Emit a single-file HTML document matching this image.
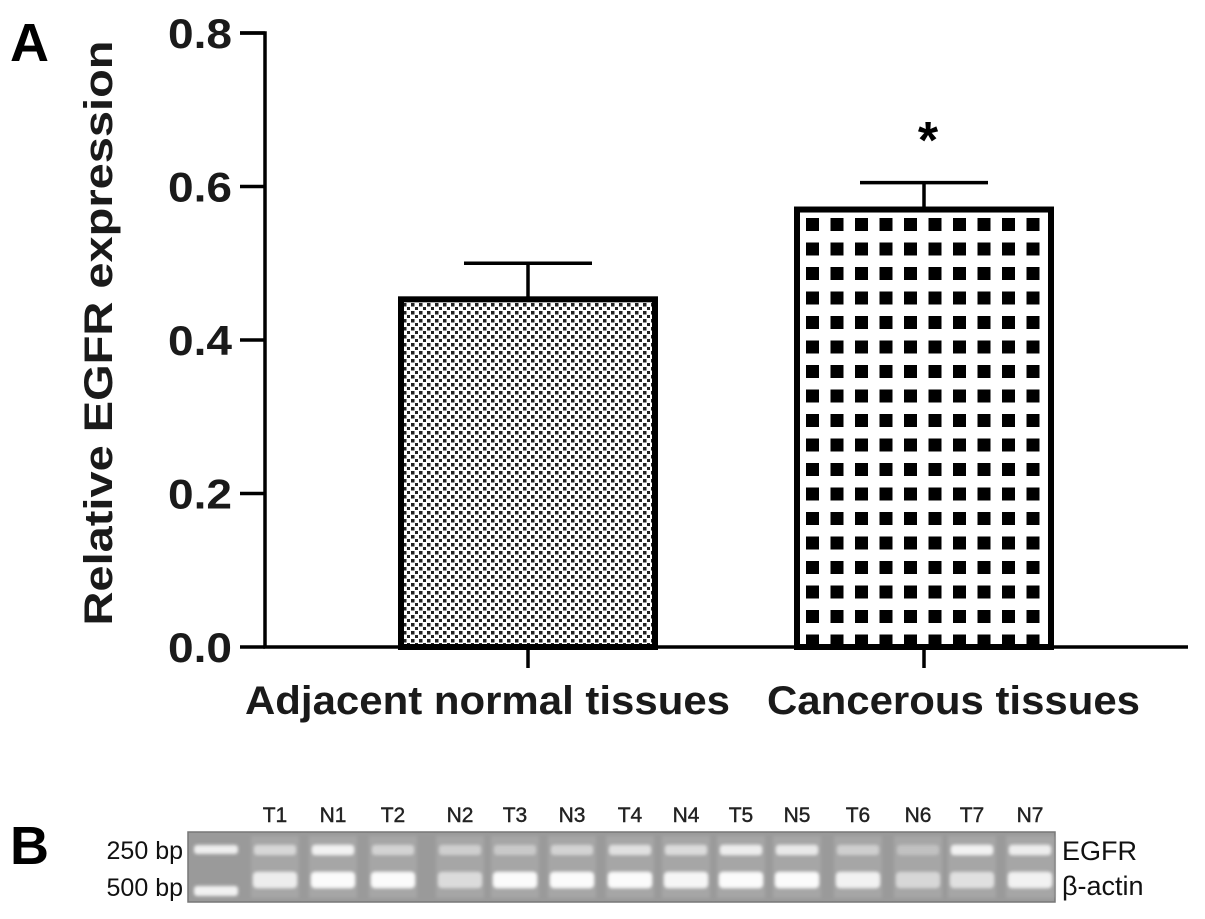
<!DOCTYPE html>
<html><head><meta charset="utf-8"><style>
body{margin:0;background:#fff;width:1205px;height:919px;overflow:hidden}
svg{display:block}
text{font-family:"Liberation Sans",sans-serif}
</style></head><body>
<svg width="1205" height="919">
<defs>
<pattern id="fine" width="8" height="8" patternUnits="userSpaceOnUse" x="402" y="302">
<rect width="8" height="8" fill="#fff"/><rect x="1" y="1" width="3.5" height="3.5" fill="#222"/><rect x="5" y="5" width="3.5" height="3.5" fill="#222"/>
</pattern>
<pattern id="coarse" width="24.5" height="24.5" patternUnits="userSpaceOnUse" x="806" y="218">
<rect width="24.5" height="24.5" fill="#fff"/><rect x="0" y="0" width="13" height="13" fill="#000"/>
</pattern>
<filter id="blur"><feGaussianBlur stdDeviation="1.6"/></filter>
</defs>
<text x="10" y="61" font-size="54" font-weight="bold">A</text>
<text x="10" y="864" font-size="54" font-weight="bold">B</text>
<g id="chart"></g>
<g id="gel"></g>
</svg>
<script>
const categories=["Adjacent normal tissues","Cancerous tissues"];
const values=[0.453,0.57];
const errors=[0.047,0.035];
const yTicks=[0,0.2,0.4,0.6,0.8];
const yTickLabels=["0.0","0.2","0.4","0.6","0.8"];
const NS="http://www.w3.org/2000/svg";
const chart=document.getElementById('chart');
const y0=647,y1=33,vmax=0.8;
function y(v){return y0-(v/vmax)*(y0-y1);}
const centers=[528,924];
function x(i){return centers[i];}
const labelX=[245,767],labelW=[485,373];
const barW=254;
function mk(tag,attrs,parent){const e=document.createElementNS(NS,tag);for(const k in attrs)e.setAttribute(k,attrs[k]);parent.appendChild(e);return e;}
const fills=["url(#fine)","url(#coarse)"];
values.forEach((v,i)=>{
  const r=mk('rect',{x:x(i)-barW/2,y:y(v),width:barW,height:y0-y(v),fill:fills[i],stroke:'#000','stroke-width':6},chart);
  
  
  const e=mk('path',{d:`M${x(i)} ${y(v)} V${y(v+errors[i])} M${x(i)-64} ${y(v+errors[i])} H${x(i)+64}`,stroke:'#000','stroke-width':3.5,fill:'none'},chart);
  
  
  mk('line',{x1:x(i),y1:y0,x2:x(i),y2:668,stroke:'#000','stroke-width':3.5},chart);
  const t=mk('text',{x:labelX[i],y:714,'font-size':40,'font-weight':'bold',textLength:labelW[i],lengthAdjust:'spacingAndGlyphs',fill:'#1a1a1a'},chart);
  t.textContent=categories[i];
  
  
});
const star=mk('text',{x:x(1)+4,y:158,'font-size':52,'font-weight':'bold','text-anchor':'middle'},chart);
star.textContent='*';


const ax=mk('path',{d:`M240 ${y1} H265 V${y0} H1188`,stroke:'#000','stroke-width':3.5,fill:'none'},chart);


yTicks.forEach((v,i)=>{
  mk('line',{x1:240,y1:y(v),x2:265,y2:y(v),stroke:'#000','stroke-width':3.5},chart);
  const t=mk('text',{x:168,y:y(v)+15,'font-size':42,'font-weight':'bold',textLength:64,lengthAdjust:'spacingAndGlyphs',fill:'#1a1a1a'},chart);
  t.textContent=yTickLabels[i];
  
  
});
const yt=mk('text',{x:0,y:0,'font-size':40,'font-weight':'bold','text-anchor':'middle',textLength:585,lengthAdjust:'spacingAndGlyphs',transform:'translate(112,333) rotate(-90)',fill:'#1a1a1a'},chart);
yt.textContent='Relative EGFR expression';



// gel
const lanes=["T1","N1","T2","N2","T3","N3","T4","N4","T5","N5","T6","N6","T7","N7"];
const laneX=[275,333,393,460,515,572,630,686,741,797,858,918,972,1030];
const egfrB=[0.55,0.85,0.5,0.45,0.4,0.5,0.65,0.6,0.8,0.75,0.45,0.3,0.85,0.8];
const actinB=[0.8,0.95,0.95,0.6,0.95,0.95,0.95,0.9,0.95,0.95,0.85,0.55,0.65,0.85];
const gel=document.getElementById('gel');
mk('rect',{x:188,y:832,width:867,height:70,fill:'#9a9a9a',stroke:'#777','stroke-width':1.5},gel);
const bands=mk('g',{filter:'url(#blur)'},gel);
mk('rect',{x:194,y:845,width:44,height:9,fill:'#eee',rx:3},bands);
mk('rect',{x:194,y:886,width:44,height:10,fill:'#f2f2f2',rx:3},bands);
lanes.forEach((l,i)=>{
  const cx=laneX[i];
  mk('rect',{x:cx-24,y:836,width:48,height:62,fill:'#a6a6a6'},bands);
  const b1=mk('rect',{x:cx-21,y:845,width:42,height:10,rx:3,fill:`rgba(255,255,255,${egfrB[i]})`},bands);
  
  
  const b2=mk('rect',{x:cx-22,y:872,width:44,height:16,rx:4,fill:`rgba(255,255,255,${actinB[i]})`},bands);
  
  
  const t=mk('text',{x:cx,y:822,'font-size':21,'text-anchor':'middle',fill:'#222',stroke:'#222','stroke-width':0.4},gel);
  t.textContent=l;
  
  
});
[["250 bp",859],["500 bp",896]].forEach(([s,yy])=>{
  const t=mk('text',{x:183,y:yy,'font-size':25,'text-anchor':'end',fill:'#111'},gel);
  t.textContent=s;
  
  
});
[["EGFR",860],["β-actin",895]].forEach(([s,yy])=>{
  const t=mk('text',{x:1062,y:yy,'font-size':27,fill:'#111'},gel);
  t.textContent=s;
  
  
});
</script>
</body></html>
